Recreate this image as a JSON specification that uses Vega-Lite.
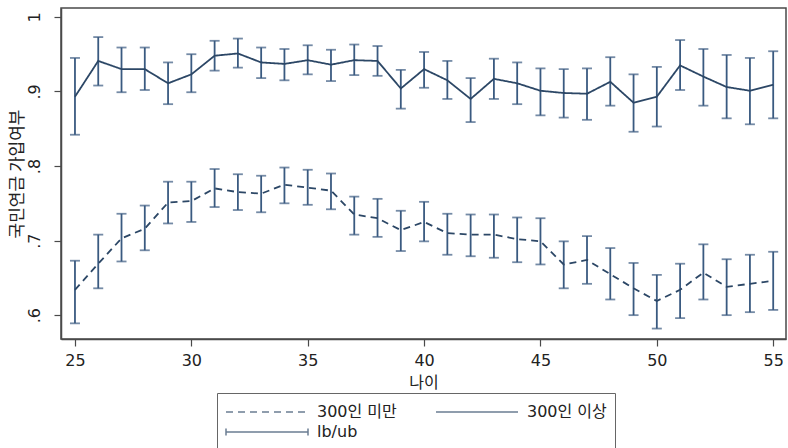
{
  "$schema": "https://vega.github.io/schema/vega-lite/v6.json",
  "width": 725,
  "height": 331,
  "autosize": "none",
  "padding": {"left": 61, "top": 8, "right": 2, "bottom": 109},
  "background": "white",
  "config": {
    "font": "Liberation Sans",
    "view": {"stroke": "#4a4a4a", "strokeWidth": 1.5},
    "axis": {"grid": false, "domainColor": "#4a4a4a", "tickColor": "#4a4a4a", "labelColor": "#222222", "titleColor": "#222222", "labelFont": "DejaVu Sans", "titleFont": "Noto Sans CJK KR", "labelFontSize": 16, "titleFontSize": 16, "titleFontWeight": "normal", "tickSize": 7, "domainWidth": 1.5, "tickWidth": 1.2},
    "legend": {"orient": "none", "direction": "horizontal", "legendX": 156, "legendY": 385, "columns": 2, "columnPadding": 36, "rowPadding": 1, "padding": 8, "strokeColor": "#666666", "labelFont": "DejaVu Sans, Noto Sans CJK KR", "labelFontSize": 16, "labelColor": "#222222", "labelOffset": 39, "symbolOffset": 31, "symbolSize": 400, "symbolStrokeWidth": 1.5, "symbolStrokeColor": "#2c4766", "symbolFillColor": "transparent"}
  },
  "data": {"values": [
    {"age": 25, "group": "300인 이상", "mean": 0.893, "lb": 0.842, "ub": 0.945},
    {"age": 26, "group": "300인 이상", "mean": 0.941, "lb": 0.908, "ub": 0.973},
    {"age": 27, "group": "300인 이상", "mean": 0.930, "lb": 0.899, "ub": 0.959},
    {"age": 28, "group": "300인 이상", "mean": 0.930, "lb": 0.902, "ub": 0.959},
    {"age": 29, "group": "300인 이상", "mean": 0.911, "lb": 0.883, "ub": 0.939},
    {"age": 30, "group": "300인 이상", "mean": 0.923, "lb": 0.899, "ub": 0.950},
    {"age": 31, "group": "300인 이상", "mean": 0.948, "lb": 0.928, "ub": 0.968},
    {"age": 32, "group": "300인 이상", "mean": 0.951, "lb": 0.932, "ub": 0.971},
    {"age": 33, "group": "300인 이상", "mean": 0.939, "lb": 0.918, "ub": 0.959},
    {"age": 34, "group": "300인 이상", "mean": 0.937, "lb": 0.915, "ub": 0.957},
    {"age": 35, "group": "300인 이상", "mean": 0.942, "lb": 0.923, "ub": 0.962},
    {"age": 36, "group": "300인 이상", "mean": 0.936, "lb": 0.914, "ub": 0.956},
    {"age": 37, "group": "300인 이상", "mean": 0.942, "lb": 0.922, "ub": 0.963},
    {"age": 38, "group": "300인 이상", "mean": 0.941, "lb": 0.921, "ub": 0.961},
    {"age": 39, "group": "300인 이상", "mean": 0.904, "lb": 0.877, "ub": 0.929},
    {"age": 40, "group": "300인 이상", "mean": 0.930, "lb": 0.905, "ub": 0.953},
    {"age": 41, "group": "300인 이상", "mean": 0.915, "lb": 0.890, "ub": 0.941},
    {"age": 42, "group": "300인 이상", "mean": 0.890, "lb": 0.859, "ub": 0.918},
    {"age": 43, "group": "300인 이상", "mean": 0.917, "lb": 0.890, "ub": 0.944},
    {"age": 44, "group": "300인 이상", "mean": 0.911, "lb": 0.883, "ub": 0.939},
    {"age": 45, "group": "300인 이상", "mean": 0.901, "lb": 0.868, "ub": 0.931},
    {"age": 46, "group": "300인 이상", "mean": 0.898, "lb": 0.865, "ub": 0.930},
    {"age": 47, "group": "300인 이상", "mean": 0.897, "lb": 0.862, "ub": 0.931},
    {"age": 48, "group": "300인 이상", "mean": 0.913, "lb": 0.881, "ub": 0.946},
    {"age": 49, "group": "300인 이상", "mean": 0.885, "lb": 0.846, "ub": 0.923},
    {"age": 50, "group": "300인 이상", "mean": 0.893, "lb": 0.853, "ub": 0.933},
    {"age": 51, "group": "300인 이상", "mean": 0.935, "lb": 0.902, "ub": 0.969},
    {"age": 52, "group": "300인 이상", "mean": 0.920, "lb": 0.881, "ub": 0.957},
    {"age": 53, "group": "300인 이상", "mean": 0.906, "lb": 0.864, "ub": 0.949},
    {"age": 54, "group": "300인 이상", "mean": 0.901, "lb": 0.856, "ub": 0.945},
    {"age": 55, "group": "300인 이상", "mean": 0.909, "lb": 0.864, "ub": 0.954},
    {"age": 25, "group": "300인 미만", "mean": 0.634, "lb": 0.589, "ub": 0.673},
    {"age": 26, "group": "300인 미만", "mean": 0.669, "lb": 0.636, "ub": 0.708},
    {"age": 27, "group": "300인 미만", "mean": 0.703, "lb": 0.672, "ub": 0.736},
    {"age": 28, "group": "300인 미만", "mean": 0.716, "lb": 0.687, "ub": 0.747},
    {"age": 29, "group": "300인 미만", "mean": 0.751, "lb": 0.723, "ub": 0.779},
    {"age": 30, "group": "300인 미만", "mean": 0.753, "lb": 0.725, "ub": 0.779},
    {"age": 31, "group": "300인 미만", "mean": 0.770, "lb": 0.745, "ub": 0.796},
    {"age": 32, "group": "300인 미만", "mean": 0.765, "lb": 0.741, "ub": 0.789},
    {"age": 33, "group": "300인 미만", "mean": 0.763, "lb": 0.738, "ub": 0.787},
    {"age": 34, "group": "300인 미만", "mean": 0.775, "lb": 0.750, "ub": 0.798},
    {"age": 35, "group": "300인 미만", "mean": 0.771, "lb": 0.748, "ub": 0.795},
    {"age": 36, "group": "300인 미만", "mean": 0.767, "lb": 0.742, "ub": 0.790},
    {"age": 37, "group": "300인 미만", "mean": 0.735, "lb": 0.708, "ub": 0.759},
    {"age": 38, "group": "300인 미만", "mean": 0.730, "lb": 0.705, "ub": 0.756},
    {"age": 39, "group": "300인 미만", "mean": 0.714, "lb": 0.686, "ub": 0.740},
    {"age": 40, "group": "300인 미만", "mean": 0.725, "lb": 0.699, "ub": 0.752},
    {"age": 41, "group": "300인 미만", "mean": 0.710, "lb": 0.681, "ub": 0.736},
    {"age": 42, "group": "300인 미만", "mean": 0.708, "lb": 0.679, "ub": 0.735},
    {"age": 43, "group": "300인 미만", "mean": 0.708, "lb": 0.677, "ub": 0.735},
    {"age": 44, "group": "300인 미만", "mean": 0.702, "lb": 0.671, "ub": 0.731},
    {"age": 45, "group": "300인 미만", "mean": 0.699, "lb": 0.668, "ub": 0.730},
    {"age": 46, "group": "300인 미만", "mean": 0.668, "lb": 0.636, "ub": 0.699},
    {"age": 47, "group": "300인 미만", "mean": 0.674, "lb": 0.642, "ub": 0.706},
    {"age": 48, "group": "300인 미만", "mean": 0.655, "lb": 0.621, "ub": 0.690},
    {"age": 49, "group": "300인 미만", "mean": 0.636, "lb": 0.600, "ub": 0.670},
    {"age": 50, "group": "300인 미만", "mean": 0.619, "lb": 0.582, "ub": 0.654},
    {"age": 51, "group": "300인 미만", "mean": 0.634, "lb": 0.596, "ub": 0.669},
    {"age": 52, "group": "300인 미만", "mean": 0.657, "lb": 0.621, "ub": 0.695},
    {"age": 53, "group": "300인 미만", "mean": 0.638, "lb": 0.600, "ub": 0.675},
    {"age": 54, "group": "300인 미만", "mean": 0.642, "lb": 0.604, "ub": 0.681},
    {"age": 55, "group": "300인 미만", "mean": 0.646, "lb": 0.607, "ub": 0.685}
  ]},
  "layer": [
    {
      "mark": {"type": "rule", "color": "#3a5a80", "strokeWidth": 1.8},
      "encoding": {
        "x": {"field": "age", "type": "quantitative", "scale": {"domain": [24.4, 55.55], "nice": false, "zero": false}, "axis": {"values": [25, 30, 35, 40, 45, 50, 55], "title": "나이", "labelPadding": 6, "titlePadding": 6}},
        "y": {"field": "lb", "type": "quantitative", "scale": {"domain": [0.568, 1.012], "nice": false, "zero": false}, "axis": {"values": [0.6, 0.7, 0.8, 0.9, 1], "labelAngle": -90, "labelExpr": "datum.value == 1 ? '1' : replace(format(datum.value, '.1f'), '0.', '.')", "labelPadding": 12, "title": "국민연금 가입여부", "titleFontSize": 17, "titlePadding": 0}},
        "y2": {"field": "ub"}
      }
    },
    {
      "mark": {"type": "tick", "orient": "horizontal", "size": 10, "thickness": 1.8, "color": "#3a5a80"},
      "encoding": {
        "x": {"field": "age", "type": "quantitative"},
        "y": {"field": "lb", "type": "quantitative"}
      }
    },
    {
      "mark": {"type": "tick", "orient": "horizontal", "size": 10, "thickness": 1.8, "color": "#3a5a80"},
      "encoding": {
        "x": {"field": "age", "type": "quantitative"},
        "y": {"field": "ub", "type": "quantitative"}
      }
    },
    {
      "mark": {"type": "line", "color": "#2c4766", "strokeWidth": 1.8},
      "encoding": {
        "x": {"field": "age", "type": "quantitative"},
        "y": {"field": "mean", "type": "quantitative"},
        "strokeDash": {"field": "group", "type": "nominal", "scale": {"domain": ["300인 미만", "300인 이상", "lb/ub"], "range": [[7, 5], [1, 0], [1, 0]]}, "legend": {"title": null}}
      }
    },
    {
      "transform": [{"filter": "false"}],
      "mark": {"type": "point", "color": "#2c4766", "filled": false},
      "encoding": {
        "x": {"field": "age", "type": "quantitative"},
        "y": {"field": "mean", "type": "quantitative"},
        "shape": {"field": "group", "type": "nominal", "scale": {"domain": ["300인 미만", "300인 이상", "lb/ub"], "range": ["M-4.1,0H4.1", "M-4.1,0H4.1", "M-4.1,0H4.1M-4.1,-0.35V0.35M4.1,-0.35V0.35"]}, "legend": {"title": null}}
      }
    }
  ]
}
